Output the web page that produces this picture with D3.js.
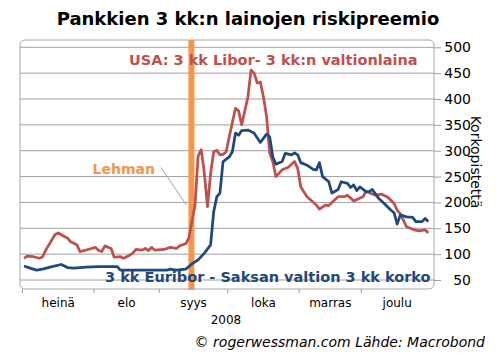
<!DOCTYPE html>
<html>
<head>
<meta charset="utf-8">
<script src="https://cdn.jsdelivr.net/npm/d3@7"></script>
<style>
  body { margin: 0; background: #fff; }
  svg { font-family: "DejaVu Sans", Verdana, sans-serif; }
</style>
</head>
<body>
<svg id="chart" width="496" height="361"></svg>
<script>
// business days counted from 1 Jul 2008 (0 = 1.7.)
let liborDays = [0, 1, 3, 5, 6, 7, 8, 10, 11, 13, 14, 15, 17, 18, 20, 23, 24, 25, 26, 28, 29, 31, 32, 34, 35,
  36, 38, 39, 40, 41, 42, 45, 47, 49, 50, 52, 53, 54, 55, 56, 57, 58, 59, 60, 61, 62, 63, 64, 65, 66, 68,
  69, 70, 72, 73, 74, 75, 76, 77, 78, 79, 80, 81, 83, 85, 87, 88, 89, 91, 94, 95, 97, 98, 101, 103, 104,
  106, 109, 110, 113, 115, 117, 119, 120, 121, 123, 125, 127, 129, 130];
let liborValues = [92, 96, 95, 92, 95, 108, 118, 138, 141, 134, 131, 124, 118, 105, 108, 113, 107, 105, 116, 111, 94, 95, 92, 98, 102,
  109, 108, 111, 107, 113, 108, 109, 113, 111, 116, 120, 131, 163, 195, 290, 302, 256, 192, 256, 298, 301, 292, 293, 298, 327, 382,
  377, 350, 404, 456, 450, 431, 433, 404, 366, 295, 279, 250, 263, 268, 279, 266, 230, 211, 195, 187, 195, 194, 211, 211, 214,
  203, 211, 221, 214, 216, 210, 198, 185, 178, 153, 148, 145, 147, 141, 134];

let euriborDays = [0, 2, 4, 6, 9, 12, 14, 16, 20, 24, 28, 30, 31, 35, 41, 46, 47, 49, 52, 54, 56, 58, 60, 61, 62,
  63, 64, 66, 67, 68, 69, 70, 72, 74, 76, 78, 79, 80, 81, 83, 84, 86, 87, 88, 89, 91, 93, 94, 95, 96,
  98, 99, 101, 102, 104, 105, 106, 107, 108, 110, 111, 112, 114, 116, 118, 119, 120, 121, 123, 125, 126, 128, 129, 130];
let euriborValues = [77, 73, 69, 71, 76, 80, 74, 73, 75, 76, 76, 76, 69, 69, 69, 69, 71, 69, 71, 81, 89, 102, 118, 182, 211,
  218, 279, 288, 298, 334, 330, 339, 340, 334, 316, 332, 327, 288, 274, 279, 295, 292, 296, 292, 277, 272, 264, 263, 277, 250,
  240, 218, 225, 240, 237, 229, 234, 223, 230, 221, 221, 225, 208, 197, 185, 180, 158, 176, 172, 171, 163, 163, 169, 163];

let monthNames = ['heinä', 'elo', 'syys', 'loka', 'marras', 'joulu'];
let monthStarts = [0, 23, 44, 66, 89, 109, 132];
let yTicks = [50, 100, 150, 200, 250, 300, 350, 400, 450, 500];
let lehmanDay = 54;

let svg = d3.select('#chart');

let frame = {left: 20, right: 434, top: 40, bottom: 289};

let x = d3.scaleLinear()
  .domain([0, 131])
  .range([24, 431.4]);

let y = d3.scaleLinear()
  .domain([50, 500])
  .range([280, 47.3]);

// title
svg.append('text')
  .attr('x', 248)
  .attr('y', 25)
  .attr('text-anchor', 'middle')
  .attr('font-size', 18)
  .attr('font-weight', 'bold')
  .text('Pankkien 3 kk:n lainojen riskipreemio');

// gridlines
svg.append('g')
  .attr('class', 'grid')
  .selectAll('line')
  .data(yTicks)
  .enter().append('line')
  .attr('x1', frame.left)
  .attr('x2', frame.right)
  .attr('y1', d => y(d))
  .attr('y2', d => y(d))
  .attr('stroke', '#a0a0a0')
  .attr('stroke-width', 1);

// lehman band
svg.append('rect')
  .attr('x', x(lehmanDay) - 3.5)
  .attr('y', frame.top)
  .attr('width', 6)
  .attr('height', frame.bottom - frame.top + 1)
  .attr('fill', '#f79646');

// frame
svg.append('rect')
  .attr('x', frame.left)
  .attr('y', frame.top)
  .attr('width', frame.right - frame.left)
  .attr('height', frame.bottom - frame.top)
  .attr('rx', 5)
  .attr('ry', 5)
  .attr('fill', 'none')
  .attr('stroke', '#a6a6a6')
  .attr('stroke-width', 1);

// right axis
svg.append('g')
  .attr('transform', `translate(${frame.right},0)`)
  .call(d3.axisRight(y).tickValues(yTicks).tickSize(7))
  .call(g => g.select('.domain').remove())
  .call(g => g.selectAll('.tick line').attr('stroke', '#a0a0a0'))
  .call(g => g.selectAll('.tick text')
    .attr('x', 37)
    .attr('text-anchor', 'end')
    .attr('font-family', 'DejaVu Sans')
    .attr('font-size', 14)
    .attr('fill', '#000'));

svg.append('text')
  .attr('transform', 'translate(471,162) rotate(90)')
  .attr('text-anchor', 'middle')
  .attr('font-size', 14)
  .text('Korkopistettä');

// x axis: month boundaries + labels
let xAxis = svg.append('g').attr('class', 'x-axis');
xAxis.selectAll('line')
  .data(monthStarts.slice(0, 6))
  .enter().append('line')
  .attr('x1', d => x(d - 0.5))
  .attr('x2', d => x(d - 0.5))
  .attr('y1', frame.bottom)
  .attr('y2', frame.bottom + 4)
  .attr('stroke', '#a0a0a0');
xAxis.selectAll('text')
  .data(monthNames)
  .enter().append('text')
  .attr('x', (d, i) => x((monthStarts[i] + monthStarts[i + 1]) / 2 - 0.5))
  .attr('y', 307)
  .attr('text-anchor', 'middle')
  .attr('font-size', 12)
  .text(d => d);
svg.append('text')
  .attr('x', 226)
  .attr('y', 324)
  .attr('text-anchor', 'middle')
  .attr('font-size', 12)
  .text('2008');

// series
let line = d3.line()
  .x(d => x(d[0]))
  .y(d => y(d[1]));

svg.append('path')
  .datum(d3.zip(liborDays, liborValues))
  .attr('fill', 'none')
  .attr('stroke', '#c0504d')
  .attr('stroke-width', 2.75)
  .attr('stroke-linejoin', 'round')
  .attr('d', line);

svg.append('path')
  .datum(d3.zip(euriborDays, euriborValues))
  .attr('fill', 'none')
  .attr('stroke', '#1f497d')
  .attr('stroke-width', 2.75)
  .attr('stroke-linejoin', 'round')
  .attr('d', line);

// labels
svg.append('text')
  .attr('x', 129)
  .attr('y', 65)
  .attr('font-size', 14.5)
  .attr('font-weight', 'bold')
  .attr('fill', '#c0504d')
  .text('USA: 3 kk Libor- 3 kk:n valtionlaina');

svg.append('text')
  .attr('x', 105)
  .attr('y', 282)
  .attr('font-size', 14.5)
  .attr('font-weight', 'bold')
  .attr('fill', '#1f497d')
  .text('3 kk Euribor - Saksan valtion 3 kk korko');

svg.append('line')
  .attr('x1', 161)
  .attr('y1', 167.5)
  .attr('x2', 186.5)
  .attr('y2', 205)
  .attr('stroke', '#a6a6a6')
  .attr('stroke-width', 1);

svg.append('text')
  .attr('x', 92.5)
  .attr('y', 174)
  .attr('font-size', 14)
  .attr('font-weight', 'bold')
  .attr('fill', '#f79646')
  .text('Lehman');

// footer
svg.append('text')
  .attr('x', 485)
  .attr('y', 347)
  .attr('text-anchor', 'end')
  .attr('font-size', 14)
  .attr('font-style', 'italic')
  .text('© rogerwessman.com Lähde: Macrobond');
</script>
</body>
</html>
